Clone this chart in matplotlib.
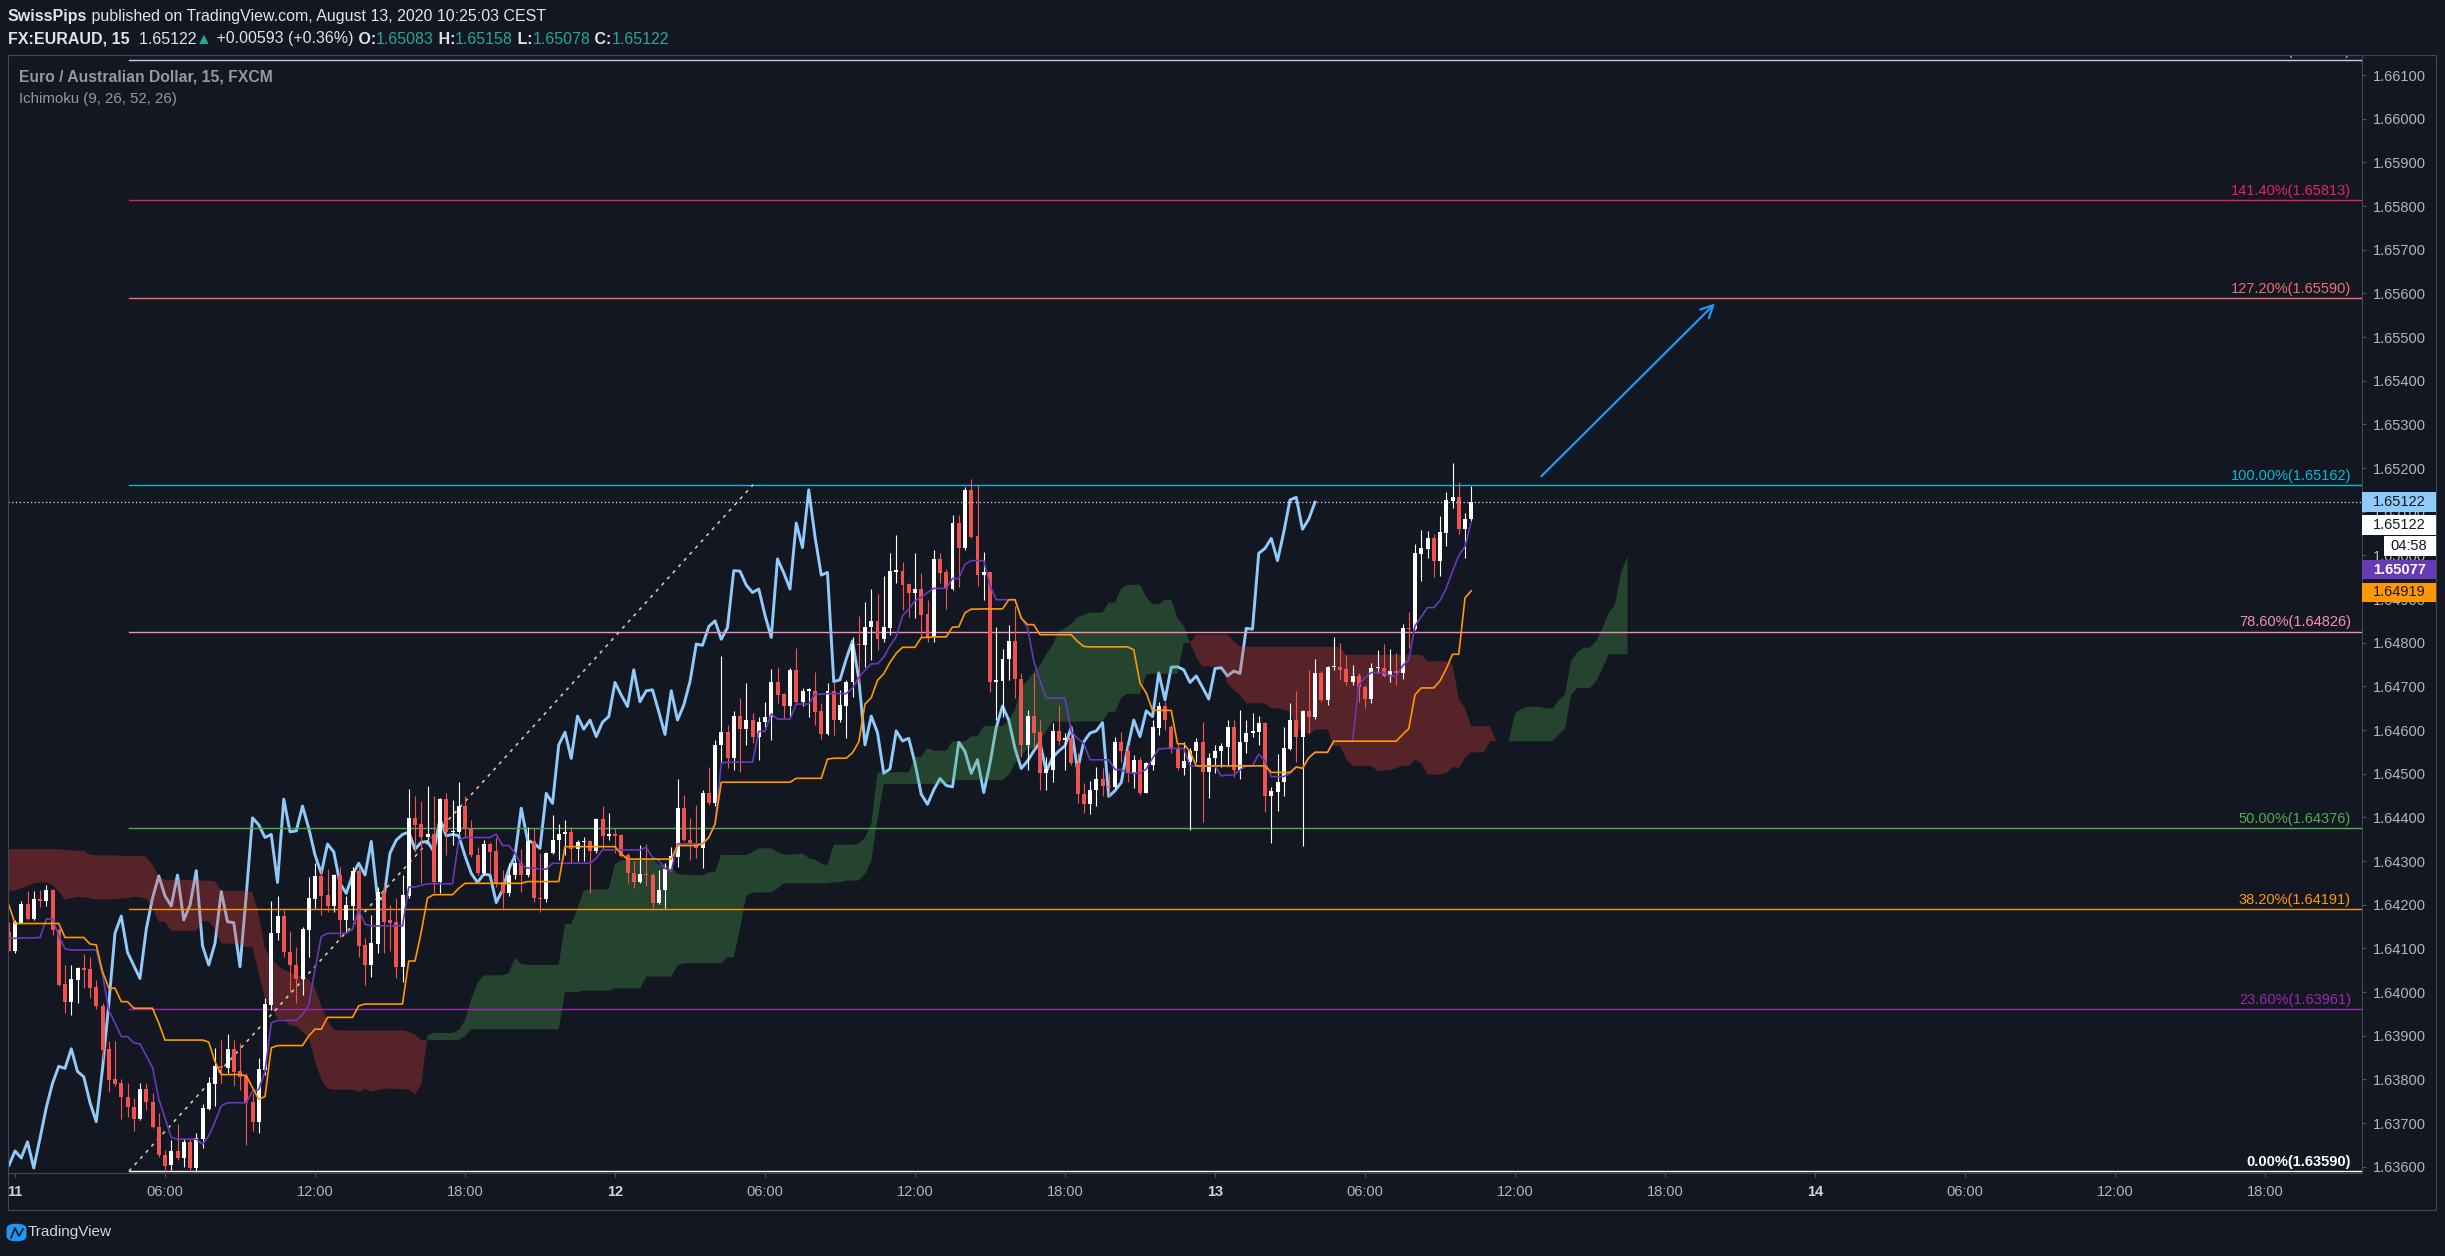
import numpy as np
import pandas as pd
import matplotlib
matplotlib.use("Agg")
import matplotlib.pyplot as plt
from matplotlib.patches import Rectangle, FancyBboxPatch

W, H = 2445, 1256
BG = '#131722'
GRID_LINE = '#434651'
AXIS_TEXT = '#b2b5be'
TEAL = '#26a69a'

# EURAUD 15 min candles, bar 0 = Aug 11 00:00, first bar is 23:45 Aug 10
first_bar = -1
opens = [1.64138, 1.64095, 1.64159, 1.64202, 1.64167, 1.64212, 1.64209, 1.64234, 1.64142, 1.64019,
	1.63978, 1.64028, 1.64054, 1.64052, 1.64012, 1.63968, 1.63869, 1.63801, 1.63791, 1.63759,
	1.63736, 1.63710, 1.63777, 1.63748, 1.63690, 1.63627, 1.63603, 1.63636, 1.63619, 1.63657,
	1.63598, 1.63664, 1.63733, 1.63790, 1.63830, 1.63825, 1.63870, 1.63820, 1.63808, 1.63749,
	1.63703, 1.63822, 1.63971, 1.64135, 1.64174, 1.64091, 1.64062, 1.64031, 1.64142, 1.64214,
	1.64266, 1.64222, 1.64197, 1.64268, 1.64165, 1.64197, 1.64278, 1.64108, 1.64062, 1.64110,
	1.64230, 1.64164, 1.64160, 1.64058, 1.64220, 1.64399, 1.64385, 1.64354, 1.64361, 1.64251,
	1.64442, 1.64366, 1.64367, 1.64426, 1.64376, 1.64315, 1.64272, 1.64339, 1.64323, 1.64251,
	1.64226, 1.64268, 1.64295, 1.64268, 1.64345, 1.64215, 1.64213, 1.64318, 1.64348, 1.64361,
	1.64366, 1.64327, 1.64343, 1.64345, 1.64322, 1.64396, 1.64358, 1.64361, 1.64360, 1.64314,
	1.64272, 1.64251, 1.64270, 1.64268, 1.64205, 1.64234, 1.64281, 1.64310, 1.64421, 1.64348,
	1.64341, 1.64329, 1.64455, 1.64432, 1.64566, 1.64595, 1.64535, 1.64632, 1.64602, 1.64623,
	1.64585, 1.64618, 1.64629, 1.64709, 1.64683, 1.64654, 1.64738, 1.64665, 1.64690, 1.64690,
	1.64644, 1.64590, 1.64690, 1.64623, 1.64656, 1.64709, 1.64797, 1.64794, 1.64835, 1.64850,
	1.64808, 1.64834, 1.64963, 1.64964, 1.64934, 1.64915, 1.64923, 1.64866, 1.64812, 1.64992,
	1.64963, 1.64923, 1.65074, 1.65018, 1.65150, 1.65044, 1.64956, 1.64961, 1.64711, 1.64713,
	1.64763, 1.64804, 1.64718, 1.64566, 1.64632, 1.64596, 1.64501, 1.64509, 1.64598, 1.64577,
	1.64581, 1.64524, 1.64453, 1.64430, 1.64463, 1.64489, 1.64473, 1.64470, 1.64572, 1.64551,
	1.64501, 1.64532, 1.64457, 1.64520, 1.64604, 1.64655, 1.64606, 1.64558, 1.64512, 1.64528,
	1.64551, 1.64572, 1.64505, 1.64535, 1.64551, 1.64562, 1.64606, 1.64509, 1.64572, 1.64593,
	1.64596, 1.64617, 1.64448, 1.64459, 1.64480, 1.64557, 1.64623, 1.64585, 1.64644, 1.64631,
	1.64731, 1.64669, 1.64744, 1.64744, 1.64740, 1.64709, 1.64724, 1.64698, 1.64671, 1.64741,
	1.64741, 1.64724, 1.64735, 1.64730, 1.64833, 1.64831, 1.65003, 1.65015, 1.65039, 1.64988,
	1.65052, 1.65125, 1.65133, 1.65060, 1.65083]
highs = [1.64161, 1.64165, 1.64209, 1.64231, 1.64231, 1.64234, 1.64245, 1.64236, 1.64146, 1.64061,
	1.64061, 1.64058, 1.64087, 1.64081, 1.64028, 1.63974, 1.63887, 1.63887, 1.63800, 1.63791,
	1.63757, 1.63791, 1.63791, 1.63768, 1.63723, 1.63639, 1.63662, 1.63698, 1.63663, 1.63663,
	1.63677, 1.63743, 1.63806, 1.63871, 1.63890, 1.63904, 1.63890, 1.63883, 1.63814, 1.63768,
	1.63848, 1.63986, 1.64209, 1.64220, 1.64192, 1.64140, 1.64104, 1.64150, 1.64264, 1.64295,
	1.64281, 1.64282, 1.64270, 1.64287, 1.64219, 1.64287, 1.64287, 1.64123, 1.64177, 1.64241,
	1.64249, 1.64199, 1.64215, 1.64268, 1.64465, 1.64449, 1.64437, 1.64472, 1.64449, 1.64444,
	1.64455, 1.64440, 1.64482, 1.64449, 1.64394, 1.64333, 1.64348, 1.64344, 1.64356, 1.64279,
	1.64295, 1.64306, 1.64327, 1.64379, 1.64375, 1.64318, 1.64320, 1.64406, 1.64386, 1.64394,
	1.64379, 1.64348, 1.64356, 1.64348, 1.64398, 1.64425, 1.64411, 1.64375, 1.64361, 1.64318,
	1.64299, 1.64337, 1.64339, 1.64272, 1.64280, 1.64295, 1.64333, 1.64487, 1.64451, 1.64399,
	1.64428, 1.64463, 1.64516, 1.64577, 1.64769, 1.64612, 1.64644, 1.64673, 1.64707, 1.64638,
	1.64631, 1.64665, 1.64739, 1.64745, 1.64684, 1.64741, 1.64787, 1.64696, 1.64696, 1.64734,
	1.64661, 1.64707, 1.64709, 1.64692, 1.64715, 1.64812, 1.64861, 1.64894, 1.64923, 1.64911,
	1.64953, 1.65005, 1.65047, 1.64985, 1.64937, 1.65005, 1.64959, 1.64898, 1.65012, 1.65005,
	1.64970, 1.65092, 1.65092, 1.65157, 1.65174, 1.65161, 1.65008, 1.64963, 1.64837, 1.64785,
	1.64841, 1.64883, 1.64730, 1.64647, 1.64730, 1.64623, 1.64539, 1.64617, 1.64657, 1.64593,
	1.64612, 1.64547, 1.64478, 1.64484, 1.64516, 1.64512, 1.64501, 1.64585, 1.64596, 1.64566,
	1.64543, 1.64539, 1.64528, 1.64623, 1.64665, 1.64665, 1.64612, 1.64570, 1.64573, 1.64558,
	1.64581, 1.64619, 1.64547, 1.64566, 1.64570, 1.64623, 1.64623, 1.64646, 1.64623, 1.64638,
	1.64632, 1.64619, 1.64470, 1.64545, 1.64608, 1.64661, 1.64690, 1.64647, 1.64738, 1.64763,
	1.64736, 1.64747, 1.64814, 1.64800, 1.64772, 1.64749, 1.64730, 1.64703, 1.64753, 1.64783,
	1.64797, 1.64785, 1.64776, 1.64844, 1.64871, 1.65027, 1.65058, 1.65056, 1.65050, 1.65090,
	1.65146, 1.65212, 1.65169, 1.65098, 1.65158]
lows = [1.64093, 1.64089, 1.64157, 1.64165, 1.64165, 1.64194, 1.64196, 1.64131, 1.64013, 1.63953,
	1.63948, 1.63974, 1.64009, 1.63986, 1.63961, 1.63845, 1.63771, 1.63784, 1.63709, 1.63713,
	1.63681, 1.63706, 1.63730, 1.63688, 1.63623, 1.63535, 1.63593, 1.63616, 1.63600, 1.63593,
	1.63589, 1.63642, 1.63730, 1.63738, 1.63791, 1.63814, 1.63784, 1.63776, 1.63650, 1.63681,
	1.63677, 1.63810, 1.63959, 1.64119, 1.64081, 1.64001, 1.63974, 1.63993, 1.64081, 1.64192,
	1.64177, 1.64184, 1.64184, 1.64127, 1.64135, 1.64165, 1.64081, 1.64016, 1.64035, 1.64089,
	1.64089, 1.64093, 1.64033, 1.64024, 1.64215, 1.64320, 1.64249, 1.64348, 1.64226, 1.64226,
	1.64314, 1.64337, 1.64363, 1.64352, 1.64310, 1.64268, 1.64268, 1.64272, 1.64241, 1.64189,
	1.64219, 1.64260, 1.64230, 1.64264, 1.64207, 1.64184, 1.64207, 1.64316, 1.64303, 1.64314,
	1.64295, 1.64299, 1.64301, 1.64226, 1.64318, 1.64327, 1.64348, 1.64318, 1.64310, 1.64249,
	1.64238, 1.64249, 1.64242, 1.64192, 1.64202, 1.64192, 1.64280, 1.64287, 1.64345, 1.64303,
	1.64306, 1.64284, 1.64428, 1.64425, 1.64524, 1.64512, 1.64509, 1.64505, 1.64566, 1.64570,
	1.64532, 1.64608, 1.64577, 1.64661, 1.64627, 1.64627, 1.64661, 1.64654, 1.64631, 1.64612,
	1.64580, 1.64589, 1.64589, 1.64619, 1.64581, 1.64676, 1.64707, 1.64745, 1.64761, 1.64783,
	1.64802, 1.64818, 1.64936, 1.64875, 1.64860, 1.64856, 1.64810, 1.64802, 1.64802, 1.64937,
	1.64877, 1.64921, 1.64928, 1.65012, 1.65040, 1.64930, 1.64898, 1.64688, 1.64623, 1.64631,
	1.64715, 1.64673, 1.64539, 1.64509, 1.64558, 1.64463, 1.64463, 1.64482, 1.64566, 1.64509,
	1.64520, 1.64432, 1.64409, 1.64407, 1.64425, 1.64448, 1.64448, 1.64467, 1.64528, 1.64482,
	1.64467, 1.64451, 1.64455, 1.64509, 1.64589, 1.64600, 1.64547, 1.64509, 1.64497, 1.64371,
	1.64528, 1.64390, 1.64444, 1.64501, 1.64516, 1.64520, 1.64493, 1.64487, 1.64548, 1.64585,
	1.64566, 1.64413, 1.64341, 1.64415, 1.64448, 1.64554, 1.64528, 1.64335, 1.64593, 1.64626,
	1.64665, 1.64657, 1.64738, 1.64715, 1.64703, 1.64703, 1.64665, 1.64650, 1.64661, 1.64730,
	1.64721, 1.64711, 1.64703, 1.64716, 1.64787, 1.64829, 1.64942, 1.64993, 1.64951, 1.64953,
	1.65021, 1.65108, 1.65049, 1.64995, 1.65078]
closes = [1.64095, 1.64161, 1.64202, 1.64167, 1.64213, 1.64209, 1.64234, 1.64142, 1.64017, 1.63978,
	1.64030, 1.64054, 1.64051, 1.64010, 1.63967, 1.63868, 1.63799, 1.63790, 1.63759, 1.63736,
	1.63710, 1.63777, 1.63748, 1.63690, 1.63626, 1.63602, 1.63636, 1.63620, 1.63657, 1.63597,
	1.63665, 1.63735, 1.63791, 1.63830, 1.63825, 1.63870, 1.63818, 1.63806, 1.63747, 1.63703,
	1.63824, 1.63972, 1.64135, 1.64174, 1.64091, 1.64061, 1.64031, 1.64144, 1.64215, 1.64266,
	1.64220, 1.64197, 1.64268, 1.64165, 1.64199, 1.64278, 1.64106, 1.64062, 1.64112, 1.64230,
	1.64161, 1.64159, 1.64058, 1.64222, 1.64399, 1.64383, 1.64354, 1.64361, 1.64251, 1.64442,
	1.64367, 1.64369, 1.64426, 1.64375, 1.64314, 1.64272, 1.64339, 1.64321, 1.64249, 1.64226,
	1.64268, 1.64295, 1.64268, 1.64345, 1.64215, 1.64213, 1.64318, 1.64348, 1.64361, 1.64366,
	1.64327, 1.64343, 1.64345, 1.64322, 1.64396, 1.64358, 1.64361, 1.64358, 1.64312, 1.64272,
	1.64251, 1.64270, 1.64268, 1.64205, 1.64234, 1.64281, 1.64312, 1.64421, 1.64348, 1.64341,
	1.64329, 1.64455, 1.64432, 1.64566, 1.64595, 1.64535, 1.64632, 1.64602, 1.64623, 1.64585,
	1.64618, 1.64631, 1.64709, 1.64680, 1.64654, 1.64738, 1.64665, 1.64690, 1.64692, 1.64642,
	1.64590, 1.64690, 1.64623, 1.64657, 1.64711, 1.64797, 1.64794, 1.64837, 1.64850, 1.64808,
	1.64835, 1.64965, 1.64964, 1.64932, 1.64915, 1.64923, 1.64863, 1.64812, 1.64992, 1.64960,
	1.64923, 1.65074, 1.65018, 1.65150, 1.65043, 1.64955, 1.64961, 1.64711, 1.64715, 1.64763,
	1.64804, 1.64718, 1.64566, 1.64632, 1.64594, 1.64501, 1.64511, 1.64598, 1.64575, 1.64581,
	1.64524, 1.64453, 1.64430, 1.64463, 1.64489, 1.64473, 1.64470, 1.64572, 1.64551, 1.64501,
	1.64532, 1.64457, 1.64524, 1.64606, 1.64655, 1.64623, 1.64558, 1.64512, 1.64529, 1.64552,
	1.64572, 1.64505, 1.64537, 1.64552, 1.64564, 1.64606, 1.64509, 1.64573, 1.64593, 1.64598,
	1.64617, 1.64448, 1.64461, 1.64480, 1.64558, 1.64623, 1.64585, 1.64644, 1.64631, 1.64731,
	1.64669, 1.64744, 1.64745, 1.64738, 1.64709, 1.64724, 1.64698, 1.64671, 1.64741, 1.64743,
	1.64724, 1.64735, 1.64730, 1.64833, 1.64831, 1.65005, 1.65016, 1.65039, 1.64988, 1.65053,
	1.65127, 1.65133, 1.65060, 1.65083, 1.65122]

# Ichimoku values before enough candles are on screen
tenkan_early = [1.64123, 1.64123, 1.64124, 1.64124, 1.64124, 1.64125, 1.64167, 1.64167]
kijun_early = [1.64200, 1.64157, 1.64157, 1.64157, 1.64157, 1.64157, 1.64157, 1.64157, 1.64157,
	1.64125, 1.64125, 1.64125, 1.64125, 1.64110, 1.64108, 1.64047, 1.64009, 1.64009, 1.63978,
	1.63978, 1.63963, 1.63963, 1.63963, 1.63963, 1.63929]
span_a_early = [1.64232, 1.64233, 1.64238, 1.64243, 1.64249, 1.64251, 1.64251, 1.64245, 1.64231,
	1.64211, 1.64215, 1.64218, 1.64217, 1.64215, 1.64212, 1.64212, 1.64212, 1.64213, 1.64214,
	1.64215, 1.64218, 1.64217, 1.64214, 1.64194, 1.64161]
span_b_early = [1.64327, 1.64327, 1.64327, 1.64327, 1.64327, 1.64327, 1.64327, 1.64327, 1.64327,
	1.64325, 1.64324, 1.64324, 1.64324, 1.64315, 1.64313, 1.64313, 1.64313, 1.64313, 1.64312,
	1.64312, 1.64312, 1.64312, 1.64310, 1.64291, 1.64264, 1.64257, 1.64257, 1.64257, 1.64257,
	1.64257, 1.64257, 1.64255, 1.64255, 1.64253, 1.64232, 1.64232, 1.64232, 1.64232, 1.64232,
	1.64228, 1.64177, 1.64100, 1.64077, 1.64062, 1.64051, 1.64045, 1.64039, 1.64035, 1.64029,
	1.64009, 1.63967, 1.63936, 1.63913, 1.63912, 1.63912, 1.63912, 1.63912, 1.63912, 1.63912,
	1.63912, 1.63912, 1.63912, 1.63912, 1.63912, 1.63909, 1.63902]

# fibonacci retracement drawn by the author
fib_low, fib_high = 1.63590, 1.65162
fib_start_bar, fib_end_bar = 18.24, 118.1
fib_ratios = [0.0, 0.236, 0.382, 0.5, 0.786, 1.0, 1.272, 1.414, 1.618]
fib_colors = ['#ffffff', '#9c27b0', '#ff9800', '#4caf50', '#f48fb1', '#00bcd4', '#ef6f6c', '#e91e63', '#d1c4e9']

# projection arrow
arrow_from = (244.2, 1.65181)
arrow_to = (272.0, 1.65577)

time_ticks = [0, 24, 48, 72, 96, 120, 144, 168, 192, 216, 240, 264, 288, 312, 336, 360]
time_labels = ['11', '06:00', '12:00', '18:00', '12', '06:00', '12:00', '18:00',
	'13', '06:00', '12:00', '18:00', '14', '06:00', '12:00', '18:00']


def fig_xy(x, y):
	return x / W, 1 - y / H


def draw_segments(fig, x, y, segments, size=11.5):
	renderer = fig.canvas.get_renderer()
	for text, color, weight in segments:
		t = fig.text(*fig_xy(x, y), text, color=color, fontweight=weight, fontsize=size, va='center', ha='left')
		x += t.get_window_extent(renderer=renderer).width


def price_tag(fig, y0, y1, text, bg, fg, x0=2362, x1=2436, bold=False, tx=2373):
	fig.add_artist(Rectangle(fig_xy(x0, y1), (x1 - x0) / W, (y1 - y0) / H, transform=fig.transFigure,
		facecolor=bg, edgecolor='none', zorder=10))
	fig.text(*fig_xy(tx, (y0 + y1) / 2), text, color=fg, fontsize=10.5, va='center', ha='left',
		fontweight='bold' if bold else 'normal', zorder=11)


def ichimoku():
	hi = pd.Series(highs)
	lo = pd.Series(lows)
	tenkan = ((hi.rolling(9).max() + lo.rolling(9).min()) / 2).to_numpy()
	kijun = ((hi.rolling(26).max() + lo.rolling(26).min()) / 2).to_numpy()
	tenkan[:len(tenkan_early)] = tenkan_early
	kijun[:len(kijun_early)] = kijun_early
	mid = (tenkan + kijun) / 2
	donch = ((hi.rolling(52, min_periods=1).max() + lo.rolling(52, min_periods=1).min()) / 2).to_numpy()
	span_a = np.concatenate([span_a_early, mid])
	skip = len(span_b_early) - 25
	span_b = np.concatenate([span_b_early, donch[skip:]])
	return tenkan, kijun, span_a, span_b


def main():
	plt.rcParams['font.family'] = ['Liberation Sans', 'DejaVu Sans']
	fig = plt.figure(figsize=(W / 100, H / 100), dpi=100, facecolor=BG)
	ax = fig.add_axes([8 / W, 1 - 1173 / H, (2362 - 8) / W, (1173 - 55) / H], facecolor=BG)

	o = np.array(opens)
	h = np.array(highs)
	l = np.array(lows)
	c = np.array(closes)
	n = len(c)
	assert len(o) == len(h) == len(l) == n
	bars = np.arange(first_bar, first_bar + n)
	tenkan, kijun, span_a, span_b = ichimoku()
	cloud_x = np.arange(first_bar, first_bar + len(span_a))

	# lagging span sits under the cloud
	ax.plot(bars - 25, c, color='#90caf9', lw=2.1, zorder=2)
	ax.fill_between(cloud_x, span_a, span_b, where=span_a >= span_b, interpolate=True,
		color='#4caf50', alpha=0.3, lw=0, zorder=3)
	ax.fill_between(cloud_x, span_a, span_b, where=span_a < span_b, interpolate=True,
		color='#f44336', alpha=0.3, lw=0, zorder=3)

	# fibonacci levels
	rng = fib_high - fib_low
	for ratio, col in zip(fib_ratios, fib_colors):
		level = fib_low + ratio * rng
		ax.plot([fib_start_bar, 400], [level, level], color=col, lw=1.0, zorder=3.5)
		ax.annotate(f"{ratio * 100:.2f}%({level:.5f})", xy=(0.9953, level), xycoords=('axes fraction', 'data'),
			xytext=(0, 1.5), textcoords='offset points', ha='right', va='bottom', color=col, fontsize=10.5,
			fontweight='bold' if ratio == 0 else 'normal', annotation_clip=False, clip_on=True, zorder=3.5)
	ax.plot([fib_start_bar, fib_end_bar], [fib_low, fib_high], color='#d6c7a1', lw=1.2, ls=(0, (2, 3)), zorder=3.6)

	# candles
	up = c >= o
	colors = np.where(up, '#ffffff', '#ef5350')
	ax.vlines(bars, l, h, colors=colors, lw=0.8, zorder=4)
	ax.bar(bars, np.maximum(np.abs(c - o), 0.00003), bottom=np.minimum(o, c), width=0.64,
		color=colors, lw=0, zorder=4.1)

	ax.plot(bars, tenkan, color='#673ab7', lw=1.2, zorder=5)
	ax.plot(bars, kijun, color='#ff9800', lw=1.2, zorder=5)

	ax.axhline(c[-1], color='#e0e3eb', lw=0.9, ls=(0, (1, 2)), zorder=6)
	ax.annotate('', xy=arrow_to, xytext=arrow_from,
		arrowprops=dict(arrowstyle='->', color='#2196f3', lw=1.6, mutation_scale=22, shrinkA=0, shrinkB=0), zorder=6)

	ax.set_xlim(-1.12, 375.52)
	ax.set_ylim(1.635856, 1.661460)

	yt = np.arange(1.636, 1.66150, 0.001)
	ax.set_yticks(yt)
	ax.set_yticklabels([f"{v:.5f}" for v in yt])
	ax.yaxis.tick_right()
	ax.set_xticks(time_ticks)
	ax.set_xticklabels(time_labels)
	ax.tick_params(axis='both', colors='#50535e', labelcolor=AXIS_TEXT, labelsize=10.5, length=3, width=0.8)
	ax.tick_params(axis='y', pad=5)
	ax.tick_params(axis='x', pad=6)
	for i, lab in enumerate(ax.get_xticklabels()):
		if i % 4 == 0:
			lab.set_fontweight('bold')
			lab.set_color('#d1d4dc')
	for sp in ax.spines.values():
		sp.set_color(GRID_LINE)
		sp.set_linewidth(0.8)

	# pane frame around price and time scales
	fig.add_artist(Rectangle(fig_xy(8, 1209.6), (2436 - 8) / W, (1209.6 - 55) / H, transform=fig.transFigure,
		fill=False, edgecolor=GRID_LINE, lw=0.8))

	# price scale tags
	price_tag(fig, 492, 512, f"{c[-1]:.5f}", '#90caf9', BG)
	price_tag(fig, 515, 535, f"{c[-1]:.5f}", '#ffffff', BG)
	price_tag(fig, 536, 556, "04:58", '#ffffff', BG, x0=2384, tx=2390)
	price_tag(fig, 560, 579, f"{tenkan[-1]:.5f}", '#673ab7', '#ffffff', bold=True)
	price_tag(fig, 583, 602, f"{kijun[-1]:.5f}", '#ff9800', BG)

	# header
	draw_segments(fig, 8, 17, [("SwissPips", '#e0e3eb', 'bold'),
		(" published on TradingView.com, August 13, 2020 10:25:03 CEST", '#e0e3eb', 'normal')])
	draw_segments(fig, 8, 39, [("FX:EURAUD, 15", '#e0e3eb', 'bold'), ("  1.65122", '#e0e3eb', 'normal'),
		("\u25b2", TEAL, 'normal'), (" +0.00593 (+0.36%)", '#e0e3eb', 'normal'),
		(" O:", '#e0e3eb', 'bold'), ("1.65083", TEAL, 'normal'),
		(" H:", '#e0e3eb', 'bold'), ("1.65158", TEAL, 'normal'),
		(" L:", '#e0e3eb', 'bold'), ("1.65078", TEAL, 'normal'),
		(" C:", '#e0e3eb', 'bold'), ("1.65122", TEAL, 'normal')])
	fig.text(*fig_xy(19, 77), "Euro / Australian Dollar, 15, FXCM", color='#9598a1', fontsize=11.3,
		fontweight='bold', va='center')
	fig.text(*fig_xy(19, 99), "Ichimoku (9, 26, 52, 26)", color='#9598a1', fontsize=10.8, va='center')

	# TradingView mark
	fig.add_artist(FancyBboxPatch(fig_xy(9, 1240), 15 / W, 15 / H, boxstyle='round,pad=0.001,rounding_size=0.004',
		transform=fig.transFigure, facecolor='#2196f3', edgecolor='none'))
	fig.add_artist(plt.Line2D([fig_xy(11, 0)[0], fig_xy(15, 0)[0], fig_xy(19, 0)[0], fig_xy(23, 0)[0]],
		[fig_xy(0, 1238)[1], fig_xy(0, 1228)[1], fig_xy(0, 1236)[1], fig_xy(0, 1229)[1]],
		transform=fig.transFigure, color=BG, lw=1.2))
	fig.text(*fig_xy(28, 1232), "TradingView", color='#d1d4dc', fontsize=11, va='center')

	fig.savefig("out.png", dpi=100, facecolor=BG)


if __name__ == "__main__":
	main()
